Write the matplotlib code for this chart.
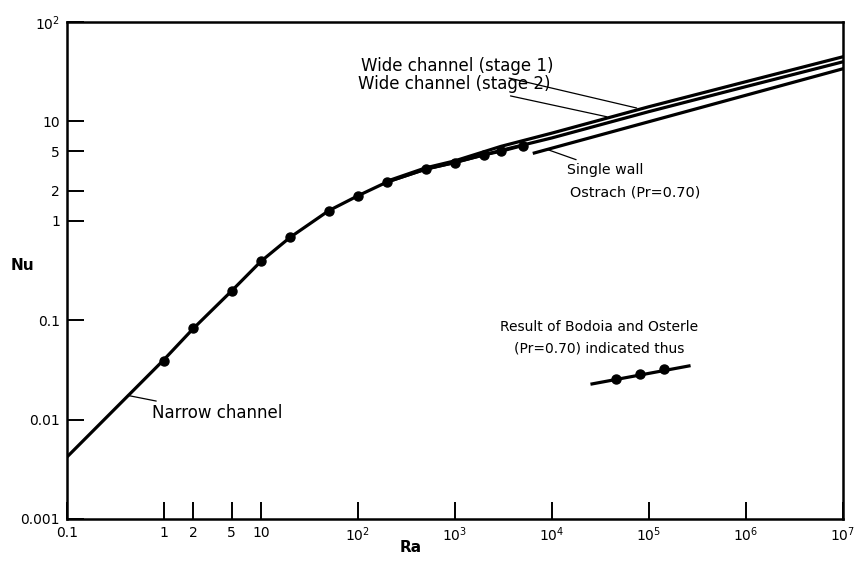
import matplotlib
matplotlib.use('Agg')
import matplotlib.pyplot as mpl
import numpy as np

# values (Ra, Nu)
narrowRa = [0.1, 1, 2, 5, 10, 20, 50, 100, 200, 500, 1000, 2000, 3000, 5000]
narrowNu = [0.0042, 0.040, 0.082, 0.197, 0.39, 0.68, 1.26, 1.78, 2.45, 3.3,
            3.85, 4.6, 5.0, 5.7]

wide1Ra = [200, 500, 1000, 3000, 1e4, 1e5, 1e6, 1e7]
wide1Nu = [2.5, 3.4, 4.0, 5.6, 7.6, 14.0, 25.0, 44.5]
wide2Ra = [200, 500, 1000, 3000, 1e4, 1e5, 1e6, 1e7]
wide2Nu = [2.45, 3.3, 3.85, 5.1, 6.8, 12.5, 22.3, 39.6]

singleRa = [6600, 1e7]
singleNu = [4.8, 33.7]

# Bodoia and Osterle points on the narrow channel curve
pointRa = [1, 2, 5, 10, 20, 50, 100, 200, 500, 1000, 2000, 3000, 5000]
pointNu = [0.039, 0.083, 0.197, 0.395, 0.69, 1.26, 1.78, 2.46, 3.32, 3.81,
           4.6, 5.0, 5.65]

# the little "indicated thus" sample
sampleRa = [2.6e4, 2.6e5]
sampleNu = [0.0228, 0.0346]
samplePtRa = [4.6e4, 8.1e4, 1.43e5]
samplePtNu = [0.0256, 0.0288, 0.0323]

xTicks = [0.1, 1, 2, 5, 10, 1e2, 1e3, 1e4, 1e5, 1e6, 1e7]
xTickLabels = ['0.1', '1', '2', '5', '10', r'$\mathregular{10^2}$',
               r'$\mathregular{10^3}$', r'$\mathregular{10^4}$',
               r'$\mathregular{10^5}$', r'$\mathregular{10^6}$',
               r'$\mathregular{10^7}$']
yTicks = [0.001, 0.01, 0.1, 1, 2, 5, 10, 100]
yTickLabels = ['0.001', '0.01', '0.1', '1', '2', '5', '10',
               r'$\mathregular{10^2}$']

FONT = 'DejaVu Sans'


############################################################################
def initFig():
    fig = mpl.figure(figsize=(8.59, 5.61), dpi=100)
    ax = fig.add_axes((0.078, 0.075, 0.903, 0.886))
    ax.set_xscale('log')
    ax.set_yscale('log')
    ax.set_xlim(0.1, 1e7)
    ax.set_ylim(0.001, 100)
    for s in ax.spines.values():
        s.set_linewidth(1.8)
    ax.xaxis.set_minor_locator(matplotlib.ticker.NullLocator())
    ax.yaxis.set_minor_locator(matplotlib.ticker.NullLocator())
    ax.set_xticks(xTicks)
    ax.set_xticklabels(xTickLabels, family=FONT, fontsize=10)
    ax.set_yticks(yTicks)
    ax.set_yticklabels(yTickLabels, family=FONT, fontsize=10)
    ax.tick_params(direction='in', length=12, width=1.4, pad=5)
    # axis names sit close to the frame, so place them on the figure
    fig.text(411/859, 1 - 548/561, 'Ra', family=FONT, fontsize=11,
             fontweight='bold', ha='center', va='center')
    fig.text(22/859, 1 - 265/561, 'Nu', family=FONT, fontsize=11,
             fontweight='bold', ha='center', va='center')
    return fig, ax


############################################################################
def plotCurves(ax):
    lw = 2.3
    ax.plot(narrowRa, narrowNu, color='black', lw=lw)
    ax.plot(wide1Ra, wide1Nu, color='black', lw=lw)
    ax.plot(wide2Ra, wide2Nu, color='black', lw=lw)
    ax.plot(singleRa, singleNu, color='black', lw=lw)
    ax.plot(pointRa, pointNu, 'o', color='black', ms=6.5)
    ax.plot(sampleRa, sampleNu, color='black', lw=lw)
    ax.plot(samplePtRa, samplePtNu, 'o', color='black', ms=6.5)


############################################################################
def addLabels(ax):
    lead = dict(arrowstyle='-', color='black', lw=0.9, shrinkA=1, shrinkB=0)

    ax.annotate('Narrow channel', xy=(0.42, 0.0175), xytext=(0.75, 0.0116),
                va='center', ha='left', arrowprops=lead,
                family=FONT, fontsize=12)
    ax.annotate('Wide channel (stage 1)', xy=(7.5e4, 13.6),
                xytext=(1.05e4, 36), va='center', ha='right',
                arrowprops=lead, family=FONT, fontsize=12)
    ax.annotate('Wide channel (stage 2)', xy=(3.7e4, 11.1),
                xytext=(9.8e3, 23.8), va='center', ha='right',
                arrowprops=lead, family=FONT, fontsize=12)
    ax.annotate('Single wall', xy=(9.0e3, 5.2), xytext=(1.43e4, 3.24),
                va='center', ha='left', arrowprops=lead,
                family=FONT, fontsize=10.2)
    ax.text(1.53e4, 1.9, 'Ostrach (Pr=0.70)', va='center', ha='left',
            family=FONT, fontsize=10.4)
    ax.text(3.1e4, 0.0855, 'Result of Bodoia and Osterle', va='center',
            ha='center', family=FONT, fontsize=10)
    ax.text(3.1e4, 0.0513, '(Pr=0.70) indicated thus', va='center',
            ha='center', family=FONT, fontsize=10)


############################################################################
def main():
    fig, ax = initFig()
    plotCurves(ax)
    addLabels(ax)
    fig.savefig('out.png', dpi=100)

main()
